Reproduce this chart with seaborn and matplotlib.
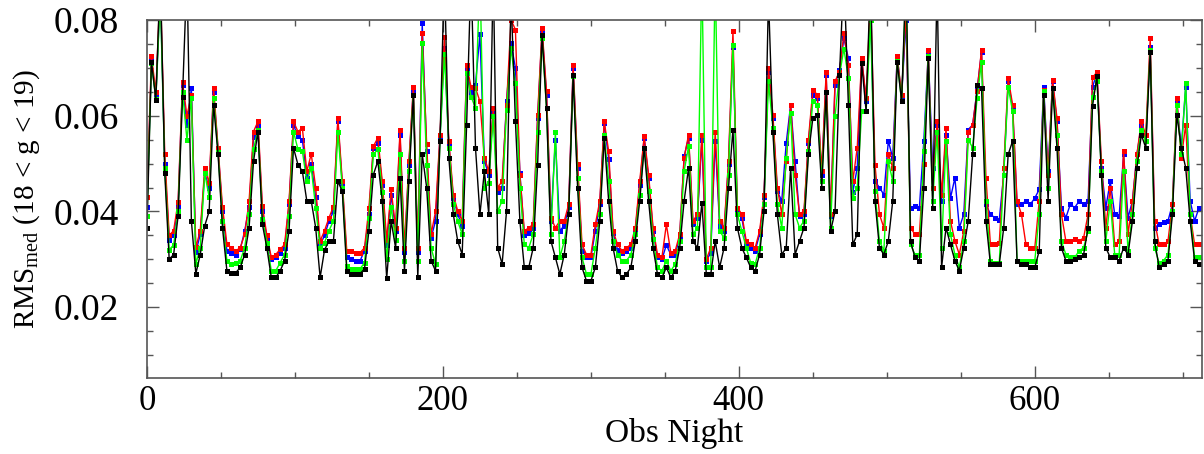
import numpy as np
import pandas as pd
import matplotlib
matplotlib.use("Agg")
import matplotlib.pyplot as plt
import seaborn as sns
from matplotlib.ticker import MultipleLocator

# Observation nights (sampled every 3rd night)
nights = np.arange(0, 714, 3)

# RMS values in units of 1e-3 (milli-mag)
rms_black_milli = [
    36.6, 71.3, 63.3, 90, 48, 30, 31, 39, 64, 90,
    38, 27, 31, 37, 40, 62.3, 52, 36.6, 27.6, 27.2,
    27.2, 28.3, 31, 36.6, 50.5, 56.7, 37.3, 32.4, 26.2, 26.2,
    27.6, 29.7, 36, 53.3, 49.8, 48.4, 42.2, 42.2, 36.6, 26.2,
    32, 33.8, 33.8, 46.3, 44.2, 27.6, 27, 27, 27, 28,
    36, 47.7, 50.5, 42.2, 26, 38, 32.4, 47, 27.6, 46.3,
    64.4, 26.2, 52, 45, 29.7, 27.6, 54.7, 90, 51.2, 39.4,
    33.8, 31, 58, 90, 53.3, 39.4, 48.4, 39.4, 90, 32.4,
    29, 40.1, 85, 58.8, 38, 28.3, 28.3, 32.4, 49.8, 76.9,
    61.6, 33.8, 30.4, 26.9, 31, 39.4, 68.5, 45, 28.3, 25.5,
    25.5, 28.3, 38, 55.4, 42.2, 32.4, 27.6, 26.2, 26.9, 28.3,
    33.8, 42.2, 53.3, 42.2, 32.4, 26.9, 26.2, 28.3, 26.2, 27.6,
    32.4, 42.2, 49.1, 33.8, 32.4, 41.8, 26.9, 26.9, 33.8, 28.3,
    32.4, 45, 57.1, 36.6, 32.4, 30.4, 28.3, 27.6, 31, 40.1,
    85, 56.7, 39.4, 31, 32.4, 49.1, 31, 33.8, 36.6, 51.9,
    59.5, 60.2, 45, 65, 35.9, 40, 68.5, 90, 62.3, 33.1,
    35.2, 71, 60.9, 90, 42.2, 32.4, 31, 33.8, 42.2, 71.3,
    63, 90, 33.8, 30.4, 29.7, 45, 72, 40.8, 88, 28.3,
    36.6, 33.1, 29.7, 27.6, 32.4, 38, 51.9, 66.5, 65.8, 38,
    29, 29, 29, 36.6, 51.9, 54.7, 29.7, 29, 29, 28.3,
    28.3, 31.8, 64.4, 42.2, 65.8, 53.3, 32.4, 29.7, 29.7, 30,
    30.4, 31, 36.6, 62, 68.2, 47.7, 32.4, 30.4, 30.4, 29.7,
    32.4, 31, 38, 49.1, 56, 53.3, 73.4, 33.8, 28.3, 29,
    29.7, 39.4, 60.2, 53.3, 49.1, 38, 29.7, 29,
]

rms_red_milli = [
    43, 72.4, 65, 88, 52, 35, 36, 42, 67, 60,
    64.4, 32.5, 36, 49, 46, 65.8, 53.3, 41, 33.2, 32.4,
    31.8, 32.4, 35.2, 42.2, 56.7, 58.8, 41.1, 35, 30.4, 31,
    32.1, 33.1, 42.1, 58.8, 56.7, 57.4, 48.4, 52, 45, 33.8,
    36, 38.7, 41, 59.5, 46.3, 31.8, 31.8, 31.4, 31.4, 32.4,
    40.8, 53.6, 55.4, 46.3, 34, 44.6, 36.6, 57, 32.4, 50.5,
    66.1, 32.4, 77.2, 54, 35.2, 40, 56, 76.5, 54.7, 43.5,
    40.1, 38, 70.6, 66, 65.8, 63, 51.2, 48.4, 61.6, 45,
    46.3, 62.3, 80, 78, 47.7, 35.9, 36.6, 37.3, 60.2, 78.3,
    65.1, 38.7, 36.6, 38, 38, 41.5, 70.6, 50, 33.1, 31,
    31, 37.3, 42.2, 58.8, 52.6, 35.9, 33.1, 31.8, 32.4, 33.1,
    36.6, 46.3, 55.7, 47.7, 36.6, 31, 30.4, 37.3, 31.4, 31.8,
    35.2, 51.2, 56, 38, 39.4, 56, 30, 32.4, 56.7, 38,
    36.6, 50.5, 77.6, 40.8, 39.4, 33.8, 33.1, 32.4, 35.9, 43.5,
    70, 60.2, 45, 39.4, 50.5, 62.3, 47.7, 39.4, 40.1, 55,
    65.4, 64.4, 48.4, 69.2, 39.4, 67.2, 69.2, 77.2, 70.6, 46.3,
    53.3, 72, 63.7, 85, 49.8, 39.4, 36.6, 52, 49.1, 72.4,
    64.4, 82, 36.6, 35.2, 35.2, 50, 73.8, 45, 58.8, 43.5,
    57.4, 38, 33.8, 31, 35.9, 56.7, 58.1, 65.1, 73.8, 47,
    33.1, 33.1, 33.5, 49.1, 67.9, 62.3, 42.2, 39.4, 33.1, 32.4,
    32.4, 42.2, 65.4, 47.7, 67.5, 59.5, 39.4, 33.8, 33.8, 34.2,
    33.8, 34.5, 39.4, 68, 69.1, 50.5, 36.6, 45, 33.1, 33.8,
    52.6, 35.2, 42.2, 51.9, 58.8, 56, 76.2, 38, 33.1, 33.1,
    33.8, 41.5, 63.7, 51.2, 58.1, 39.4, 33.1, 33.1,
]

rms_blue_milli = [
    41, 71.5, 64, 86, 50, 34, 35, 41, 66.5, 58,
    65.8, 31.5, 35.2, 48, 45, 65, 53, 40, 31.8, 31.4,
    31, 32.1, 35.9, 41, 55.5, 57.8, 40, 34.5, 30, 30.4,
    31.4, 32.4, 41.5, 58.1, 55.7, 55, 47, 50, 43, 33,
    35, 38, 40, 58.8, 45.5, 30.4, 30, 29.7, 29.7, 31.8,
    39.4, 53.3, 54.3, 45.5, 33, 43.5, 35.9, 56, 31.5, 49.8,
    65.4, 31.5, 79.3, 52.6, 34.5, 38, 55.5, 74.1, 54, 42.9,
    39.4, 37, 70, 65, 66.5, 77, 50.5, 47.7, 61, 44,
    45, 63, 75.1, 70, 48.1, 35, 35.5, 36.6, 59.5, 77.6,
    64.4, 38, 55, 36, 37, 41, 70, 49, 31.8, 30.4,
    30.4, 36, 41.5, 58.5, 51, 35.5, 32, 31.4, 31.8, 32.4,
    36, 45.5, 55.4, 47, 36, 30.4, 30, 33, 31, 31,
    34.5, 51.5, 55.4, 37.3, 38.7, 55, 29.7, 31.4, 54.7, 37,
    35.9, 50, 74.4, 40, 38.7, 33.1, 32.4, 31.8, 35.2, 43,
    69.2, 59.5, 44.2, 42.2, 54.3, 62.3, 50.5, 39, 39.4, 54.3,
    64.4, 63.7, 47.7, 68.5, 39, 66.5, 69.6, 76.2, 72, 44,
    49.1, 72, 63, 82, 46.3, 45, 43.5, 54.7, 51.2, 72.4,
    64, 80, 40.8, 41.1, 40.8, 54.7, 73.1, 49.1, 58.1, 42.2,
    56, 42.8, 47, 36.6, 39.4, 57.1, 58.1, 65.4, 73.4, 41.5,
    39.4, 38.7, 38.3, 47.7, 67.2, 61.6, 41.5, 41.5, 42.2, 41.5,
    42.8, 44.6, 66.1, 48.4, 67.2, 58.8, 40.8, 38.7, 41.5, 40.8,
    42.2, 41.5, 42.2, 66, 68.9, 49.1, 40.8, 46.3, 39.4, 39,
    51.9, 38.7, 42.2, 51.9, 58.1, 54.7, 74.4, 36.6, 37.3, 37.7,
    38, 41.5, 62.6, 53.3, 66.1, 42.2, 38, 40.8,
]

rms_green_milli = [
    39, 71, 63.5, 85, 49, 32, 33, 40, 65, 55,
    63.7, 29, 32.4, 48, 43, 63.7, 52.5, 38, 29.7, 29,
    29.3, 29.7, 32.4, 39.4, 53, 57.1, 38.5, 33.5, 27.6, 27.6,
    29.3, 31, 39, 56.7, 53, 52.6, 46.3, 49.1, 40.8, 32.4,
    33.5, 36, 38, 56.7, 45, 28.6, 28, 28, 28, 29.3,
    38.7, 51.9, 53, 44, 30, 41, 34, 52, 29.7, 48.4,
    64.4, 29.7, 75.1, 49.8, 32.4, 29, 54.7, 73, 53.3, 41.5,
    38, 35.2, 69, 64, 61.6, 90, 45, 46, 60, 40,
    42.2, 61.3, 74.1, 66.8, 45, 33.1, 32.4, 35.2, 56.7, 76.2,
    61.6, 35.2, 56.7, 30.4, 33.8, 39.4, 68.2, 47, 30.4, 26.9,
    26.9, 32.4, 39.4, 56, 46.3, 33.8, 31, 29.7, 29.7, 31,
    35.2, 43.5, 53.3, 44.2, 34.2, 28.3, 27.6, 29.7, 27.6, 29,
    33.8, 48.4, 53.6, 35.2, 36.6, 90, 28.3, 28.3, 90, 35.9,
    34.5, 47.7, 74.8, 39.4, 35.9, 32.4, 29.3, 29, 32.4, 41.5,
    67.2, 57.4, 41.5, 36.6, 51.2, 60.6, 39.4, 36.6, 38, 52.6,
    63, 62.3, 46.3, 65, 36.6, 60, 68.5, 74, 67.9, 42.9,
    45, 60.9, 60.9, 80, 44.2, 33.8, 31.8, 50.5, 46.3, 71.5,
    63, 88, 33.1, 31, 31, 52.6, 72.4, 42.2, 56.7, 32.4,
    54.7, 35.2, 31, 28.3, 33.8, 55, 53.3, 63.7, 71.3, 42.2,
    29.7, 29.3, 29.3, 47.7, 66.1, 60.9, 29.7, 29.7, 29.7, 29.7,
    29.7, 39.4, 65.1, 45, 65.8, 56, 33.8, 31, 30.4, 30.4,
    31.8, 32.4, 35.9, 64, 67.2, 48.4, 33.8, 42.2, 31, 31,
    48.4, 31.8, 39.4, 50.5, 57.1, 54.7, 73.8, 32.4, 29.3, 29.7,
    31, 40.1, 62.3, 51.9, 66.8, 39.4, 30.4, 30.4,
]

x_ticks = [0, 200, 400, 600]
y_ticks = [0.02, 0.04, 0.06, 0.08]
x_label = "Obs Night"
y_label = r"RMS$_{\rm med}$ (18 < g < 19)"

sns.set_style("ticks")
plt.rcParams["font.family"] = ["Liberation Serif", "DejaVu Serif"]
plt.rcParams["mathtext.fontset"] = "custom"
plt.rcParams["mathtext.rm"] = "Liberation Serif"
plt.rcParams["text.color"] = "black"
plt.rcParams["axes.labelcolor"] = "black"

fig = plt.figure(figsize=(12.04, 4.54), dpi=100)
ax_h = (378 - 20) / 454
ax = fig.add_axes([147 / 1204, 1 - 378 / 454, (1202 - 147) / 1204, ax_h])

series = [
    (rms_blue_milli, "#0000ff"),
    (rms_red_milli, "#ff0000"),
    (rms_green_milli, "#00ff00"),
    (rms_black_milli, "#000000"),
]
for vals, col in series:
    df = pd.DataFrame({"night": nights, "rms": np.asarray(vals) / 1000.0})
    sns.lineplot(data=df, x="night", y="rms", ax=ax, color=col, linewidth=1.0,
                 marker="s", markersize=3.6, markeredgewidth=0, markerfacecolor=col,
                 sort=True, estimator=None, legend=False)

ax.set_xlim(0, 713)
ax.set_ylim(0.0052, 0.08)
ax.set_xticks(x_ticks)
ax.set_yticks(y_ticks)
ax.set_yticklabels([f"{v:.2f}" for v in y_ticks])
ax.xaxis.set_minor_locator(MultipleLocator(50))
ax.yaxis.set_minor_locator(MultipleLocator(0.005))
frame_col = "#555555"
ax.tick_params(which="both", direction="in", top=True, right=True, colors=frame_col,
               labelcolor="black")
ax.tick_params(axis="y", labelsize=27, pad=20)
ax.tick_params(axis="x", labelsize=25, pad=5)
ax.tick_params(which="major", length=8.5, width=1.0)
ax.tick_params(which="minor", length=4.3, width=1.0)
for sp in ax.spines.values():
    sp.set_color(frame_col)
    sp.set_linewidth(1.2)

ax.set_xlabel(x_label, fontsize=24, color="black")
ax.xaxis.set_label_coords(0.5, -(418 - 378) / 358)
ax.set_ylabel(y_label, fontsize=21, color="black")
ax.yaxis.set_label_coords(-105 / (1202 - 147), 0.5)

fig.savefig("out.png", dpi=100)
